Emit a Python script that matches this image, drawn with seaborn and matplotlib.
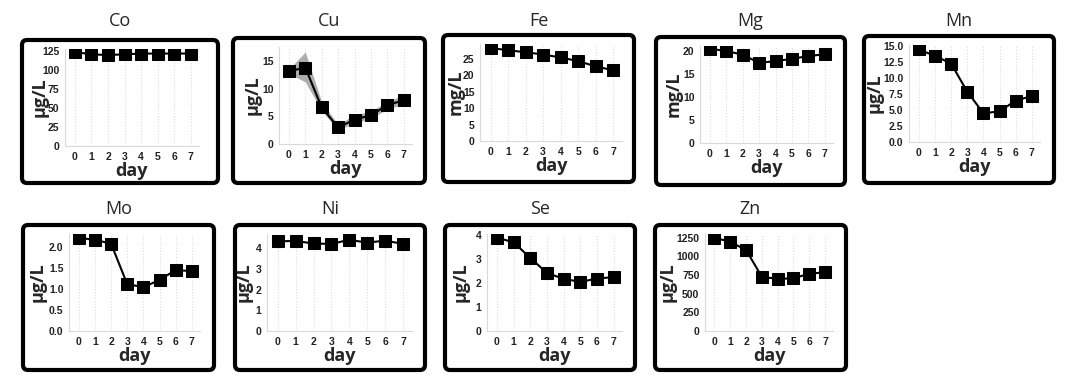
import seaborn as sns
import matplotlib.pyplot as plt
import numpy as np
import pandas as pd
from matplotlib.patches import FancyBboxPatch
from matplotlib.transforms import IdentityTransform

days = [0, 1, 2, 3, 4, 5, 6, 7]

co = [124, 121, 120, 121, 122, 122, 122, 122]
cu = [13.1, 13.8, 6.6, 3.0, 4.4, 5.2, 7.0, 7.9]
cu_lo = [12.7, 11.2, 6.0, 2.5, 3.8, 4.6, 6.3, 7.2]
cu_hi = [13.5, 16.6, 7.6, 3.5, 5.3, 5.9, 7.7, 8.8]
fe = [28.3, 27.6, 27.0, 26.3, 25.4, 24.3, 22.7, 21.5]
mg = [20.6, 20.1, 19.3, 17.5, 17.9, 18.4, 19.0, 19.4]
mn = [14.5, 13.5, 12.3, 7.9, 4.5, 4.8, 6.5, 7.2]
mo = [2.23, 2.18, 2.09, 1.12, 1.05, 1.22, 1.46, 1.43]
ni = [4.35, 4.36, 4.24, 4.22, 4.42, 4.28, 4.38, 4.22]
se = [3.9, 3.7, 3.05, 2.42, 2.18, 2.05, 2.19, 2.25]
zn = [1250, 1195, 1085, 725, 700, 705, 770, 785]

elements = ['Co', 'Cu', 'Fe', 'Mg', 'Mn', 'Mo', 'Ni', 'Se', 'Zn']
values = [co, cu, fe, mg, mn, mo, ni, se, zn]
units = ['µg/L', 'µg/L', 'mg/L', 'mg/L', 'µg/L', 'µg/L', 'µg/L', 'µg/L', 'µg/L']
yticks = [
    [0, 25, 50, 75, 100, 125],
    [0, 5, 10, 15],
    [0, 5, 10, 15, 20, 25],
    [0, 5, 10, 15, 20],
    [0.0, 2.5, 5.0, 7.5, 10.0, 12.5, 15.0],
    [0.0, 0.5, 1.0, 1.5, 2.0],
    [0, 1, 2, 3, 4],
    [0, 1, 2, 3, 4],
    [0, 250, 500, 750, 1000, 1250],
]
ytop = [128, 17.5, 29.5, 21.2, 15.2, 2.32, 4.7, 4.05, 1300]
tickfmt = ['{:g}', '{:g}', '{:g}', '{:g}', '{:.1f}', '{:.1f}', '{:g}', '{:g}', '{:g}']

# box (left, top, right, bottom), axes left / right and y-label right edge, in pixels
boxes = [
    (22, 40, 218, 183), (233, 38, 425, 183), (443, 35, 634, 182),
    (656, 37, 845, 185), (864, 36, 1054, 183),
    (23, 225, 214, 370), (235, 225, 425, 370), (445, 225, 635, 370),
    (655, 225, 846, 370),
]
ax_lr = [
    (65, 199), (279, 412), (480, 622), (700, 833), (909, 1040),
    (69, 200), (267, 412), (487, 622), (705, 833),
]
ylab_x = [49, 262, 465, 683, 884, 47, 253, 470, 677]
title_y = [21, 21, 21, 21, 21, 209, 209, 209, 209]

W, H = 1080, 380
sns.set_theme(style='white')
plt.rcParams['font.family'] = ['Open Sans', 'DejaVu Sans']

fig = plt.figure(figsize=(W / 100, H / 100), dpi=100)

for i, el in enumerate(elements):
    bl, bt, br, bb = boxes[i]
    al, ar = ax_lr[i]
    a_top = bt + 9
    a_bot = bt + 106
    ax = fig.add_axes([al / W, 1 - a_bot / H, (ar - al) / W, (a_bot - a_top) / H])

    if el == 'Cu':
        ax.fill_between(days, cu_lo, cu_hi, color='#a0a0a0', alpha=0.85, lw=0, zorder=1)
    sns.lineplot(x=days, y=values[i], ax=ax, color='black', marker='s',
                 markersize=8, markeredgecolor='black', linewidth=1.5, zorder=3)

    ax.set_xlim(-0.6, 7.5)
    ax.set_ylim(0, ytop[i])
    ax.set_xticks(days)
    ax.set_yticks(yticks[i])
    ax.set_yticklabels([tickfmt[i].format(t) for t in yticks[i]])
    ax.grid(axis='x', color='#dddddd', linestyle=':', linewidth=0.8)
    for s in ['top', 'right']:
        ax.spines[s].set_visible(False)
    for s in ['left', 'bottom']:
        ax.spines[s].set_color('#d9d9d9')
        ax.spines[s].set_linewidth(0.8)
    ax.tick_params(axis='both', labelsize=7.5, colors='#333333', length=2, width=0.6,
                   pad=2)
    ax.tick_params(axis='x', length=0, pad=4)
    for lab in ax.get_xticklabels() + ax.get_yticklabels():
        lab.set_fontfamily(['Liberation Sans', 'DejaVu Sans'])
        lab.set_fontweight('bold')
        lab.set_color('#222222')
    ax.set_xlabel('day', fontsize=13, fontweight='bold', labelpad=0)
    ax.set_ylabel(units[i], fontsize=13, fontweight='bold')
    ax.yaxis.set_label_coords((ylab_x[i] - al) / (ar - al), 0.5)

    box = FancyBboxPatch((bl, H - bb), br - bl, bb - bt,
                         boxstyle='round,pad=0,rounding_size=5',
                         transform=IdentityTransform(), fill=False,
                         edgecolor='black', linewidth=3)
    fig.add_artist(box)
    fig.text((bl + br) / 2 / W, 1 - title_y[i] / H, el, ha='center', va='center',
             fontsize=13)

fig.savefig('out.png', dpi=100)
